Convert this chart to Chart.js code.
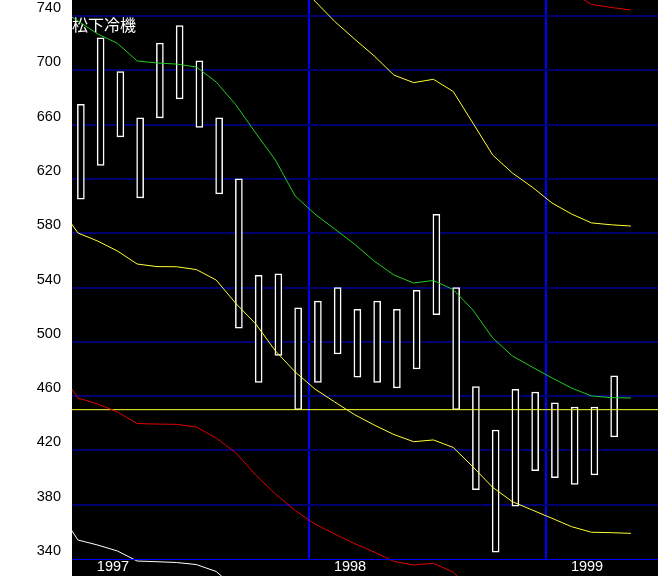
<!DOCTYPE html>
<html>
<head>
<meta charset="utf-8">
<title>松下冷機</title>
<script src="https://cdn.jsdelivr.net/npm/chart.js@4.4.1/dist/chart.umd.min.js"></script>
<style>
	html, body { margin: 0; padding: 0; background: #fff; }
	#wrap { width: 658px; height: 578px; }
</style>
</head>
<body>
<div id="wrap"><canvas id="chart"></canvas></div>
<script>
var stockName = '松下冷機'

// monthly bodies, index 0 = 1997/01 ... 27 = 1999/04
var bodyLow  = [605, 630, 651, 606, 665, 679, 658, 609, 510, 470, 490, 450, 470, 491, 474, 470, 466, 480, 520, 450, 391, 345, 379, 405, 400, 395, 402, 430]
var bodyHigh = [675, 724, 699, 665, 720, 733, 707, 665, 620, 549, 550, 525, 530, 540, 524, 530, 524, 538, 594, 540, 467, 435, 465, 463, 455, 452, 452, 475]

// lines run from 1996/12 (index -1) to 1999/05 (index 28)
var avgLine = [745.9, 736.3, 726.8, 719.9, 706.9, 705.4, 704.6, 702.4, 691.4, 674.5, 653.8, 633.9, 607.4, 594.1, 583.1,
	572.0, 559.5, 549.2, 543.3, 545.2, 538.5, 523.4, 502.8, 489.5, 481.4, 473.4, 465.9, 460.1, 458.9, 458.6]
var upperBand1 = [null, null, null, null, null, null, null, null, null, null, null, null, 766.6, 751.0, 736.0,
	723.1, 710.6, 696.5, 690.9, 693.4, 684.4, 661.1, 637.6, 624.3, 614.0, 602.3, 594.1, 587.6, 586.2, 585.3]
var lowerBand1 = [600.8, 580.2, 574.2, 566.9, 557.3, 555.4, 555.3, 553.2, 545.5, 528.2, 513.2, 493.3, 477.8, 465.2, 455.7,
	446.4, 438.7, 431.7, 426.4, 427.7, 422.2, 407.9, 392.8, 382.2, 376.1, 370.0, 363.8, 359.7, 359.4, 358.9]
var upperBand2 = [null, null, null, null, null, null, null, null, null, null, null, null, null, null, null,
	null, null, null, null, null, null, null, null, null, null, null, 757.7, 748.5, 746.3, 744.4]
var lowerBand2 = [480, 458.6, 454.2, 448.3, 439.8, 439.4, 439.2, 437.2, 429.1, 418.1, 401.9, 387.9, 375.7, 365.8, 358.4,
	351.4, 345.2, 338.2, 335.6, 336.8, 330.4, 316, null, null, null, null, null, null, null, null]
var lowerBand3 = [376.1, 354.0, 350.3, 345.9, 338.5, 338.0, 337.4, 335.9, 330.8, 318, null, null, null, null, null,
	null, null, null, null, null, null, null, null, null, null, null, null, null, null, null]
var refPrice = 450

var yTicks = [340, 380, 420, 460, 500, 540, 580, 620, 660, 700, 740]
var yearLabels = ['1997', '1998', '1999']
var yearStart = [0, 12, 24]

var X_MIN = -0.45
var X_MAX = X_MIN + 29.67
var LINE_SHIFT = -0.15
var labelFont = { family: "'Liberation Sans', Arial, sans-serif", size: 14.5 }

function lineData(arr) {
	return arr.map(function(v, k) { return {x: k - 1 + LINE_SHIFT, y: v} })
}

function line(arr, color) {
	return {
		type: 'line',
		data: lineData(arr),
		borderColor: color,
		borderWidth: 1,
		pointRadius: 0,
		fill: false,
		tension: 0,
		spanGaps: false,
		clip: {left: 0, top: 0, right: 0, bottom: 17},
		order: 0
	}
}

// black plot, including the year row under it
var blackPlot = {
	id: 'blackPlot',
	beforeDraw: function(chart) {
		var a = chart.chartArea
		var c = chart.ctx
		c.save()
		c.fillStyle = '#000'
		c.fillRect(a.left, a.top, a.right - a.left, chart.scales.x.bottom - a.top)
		c.restore()
	}
}

var chart = new Chart(document.getElementById('chart').getContext('2d'), {
	type: 'bar',
	data: {
		datasets: [
			line(avgLine, '#22cc22'),
			line(upperBand1, '#ffff30'),
			line(lowerBand1, '#ffff30'),
			line(upperBand2, '#e00000'),
			line(lowerBand2, '#e00000'),
			line(lowerBand3, '#ffffff'),
			{
				type: 'line',
				data: [{x: X_MIN, y: refPrice}, {x: X_MAX, y: refPrice}],
				borderColor: '#ffff30',
				borderWidth: 1,
				pointRadius: 0,
				order: 0
			},
			{
				type: 'bar',
				data: bodyLow.map(function(lo, i) { return {x: i, y: [lo, bodyHigh[i]]} }),
				backgroundColor: '#000',
				borderColor: '#fff',
				borderWidth: 1.5,
				borderSkipped: false,
				barThickness: 7,
				order: 1
			}
		]
	},
	options: {
		responsive: true,
		maintainAspectRatio: false,
		animation: false,
		devicePixelRatio: 1,
		layout: { padding: { bottom: 2 }, autoPadding: false },
		plugins: {
			legend: { display: false },
			tooltip: { enabled: false },
			title: {
				display: true,
				text: stockName,
				align: 'start',
				position: 'top',
				fullSize: false,
				color: '#fff',
				font: { family: "'Noto Sans CJK JP'", size: 16, weight: 'normal', lineHeight: 1.2 },
				padding: { top: 15.5, bottom: -34.7 }
			}
		},
		scales: {
			x: {
				type: 'linear',
				min: X_MIN,
				max: X_MAX,
				bounds: 'data',
				offset: false,
				afterBuildTicks: function(s) {
					s.ticks = yearStart.map(function(m) { return {value: m + X_MIN} })
				},
				afterFit: function(s) {
					s.height = 17
					s.paddingLeft = 0
					s.paddingRight = 0
				},
				grid: {
					offset: false,
					drawTicks: false,
					lineWidth: 2,
					color: function(c) { return c.index === 0 ? 'rgba(0,0,0,0)' : '#0000ff' }
				},
				border: { display: true, color: '#0000ff', width: 1, z: 1 },
				ticks: {
					autoSkip: false,
					maxRotation: 0,
					minRotation: 0,
					padding: -1,
					labelOffset: 41,
					color: '#fff',
					font: labelFont,
					callback: function(v, i) { return yearLabels[i] }
				}
			},
			y: {
				min: 340,
				max: 751.8,
				afterBuildTicks: function(s) {
					s.ticks = yTicks.map(function(v) { return {value: v} })
				},
				afterFit: function(s) {
					s.width = 72
					s.paddingTop = 0
					s.paddingBottom = 0
				},
				grid: {
					drawTicks: false,
					lineWidth: 2,
					color: function(c) { return c.tick && c.tick.value === 340 ? 'rgba(0,0,0,0)' : '#000070' }
				},
				border: { display: false },
				ticks: {
					padding: 11,
					labelOffset: -8,
					color: '#000',
					font: labelFont
				}
			}
		}
	},
	plugins: [blackPlot]
})
</script>
</body>
</html>
